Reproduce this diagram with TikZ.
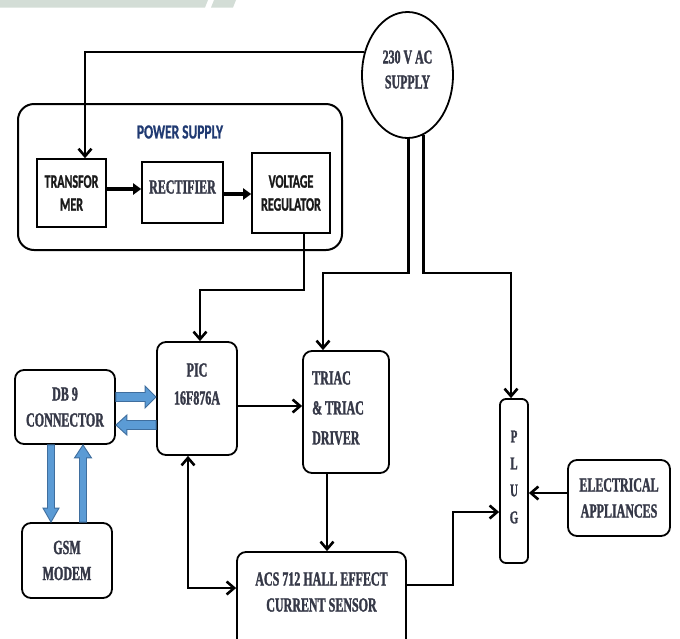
\documentclass[tikz,border=0pt]{standalone}
\usepackage{fontspec}
\usetikzlibrary{arrows.meta,calc,shapes.geometric}
\newfontfamily\srf[FakeStretch=0.6,FakeBold=1.5]{Liberation Serif}
\newfontfamily\srfs[FakeStretch=0.61,FakeBold=1.5]{Liberation Serif}
\newfontfamily\ssf[FakeStretch=0.63,FakeBold=1.2]{Carlito}
\newfontfamily\ssfp[FakeStretch=0.67,FakeBold=0.8]{Carlito}
\definecolor{txt}{HTML}{353847}
\definecolor{navy}{HTML}{203A72}
\definecolor{bfill}{HTML}{5B9BD5}
\definecolor{bline}{HTML}{3F6E9E}
\definecolor{band}{HTML}{D3DDD6}
\newcommand\SerT{\srf\bfseries\fontsize{20}{26}\selectfont}
\newcommand\SerS{\srfs\bfseries\fontsize{19.5}{25}\selectfont}
\newcommand\SanT{\ssf\bfseries\fontsize{19}{23}\selectfont}
\newcommand\BArrow[5]{%
  \filldraw[fill=bfill,draw=bline,line width=0.9pt,line join=miter]
    let \p1=(#1), \p2=(#2), \n1={atan2(\y2-\y1,\x2-\x1)}, \n2={veclen(\x2-\x1,\y2-\y1)} in
    [shift={(\p1)},rotate=\n1]
    (0,-#3) -- (\n2-#5,-#3) -- (\n2-#5,-#4) -- (\n2,0) -- (\n2-#5,#4) -- (\n2-#5,#3) -- (0,#3) -- cycle;}
\tikzset{
  box/.style={draw=black, line width=1.8pt, rounded corners=9pt, inner sep=0pt},
  sqbox/.style={draw=black, line width=1.6pt, inner sep=0pt},
  conn/.style={line width=2.6pt, -{Straight Barb[length=7.5pt,width=13pt]}},
  conn2/.style={line width=2.6pt, {Straight Barb[length=7.5pt,width=13pt]}-{Straight Barb[length=7.5pt,width=13pt]}},
  thick arrow/.style={line width=3.4pt, -{Triangle[length=8pt,width=11pt]}},
  sertext/.style={font=\SerT, text=txt, align=center, inner sep=0pt},
  santext/.style={font=\SanT, text=black!90, align=center, inner sep=0pt}
}
\begin{document}
\begin{tikzpicture}[x=1pt,y=-1pt]
\useasboundingbox (0,0) rectangle (680,638);
\clip (0,0) rectangle (680,638);
% top band
\fill[band] (0,0) -- (208,0) -- (205,7.5) -- (0,7.5) -- cycle;
\fill[band] (214,0) -- (236,0) -- (233,7.5) -- (211,7.5) -- cycle;

% power supply group
\node[draw=black, line width=2pt, rounded corners=16pt, minimum width=324, minimum height=146, inner sep=0] (ps) at (180,177) {};
\node[font={\ssfp\bfseries\fontsize{20}{22}\selectfont}, text=navy, inner sep=0] (pst) at (180,132) {POWER SUPPLY};
\node[sqbox, santext, draw=black, minimum width=69, minimum height=68] (tr) at (71.5,193) {TRANSFOR\\MER};
\node[sqbox, minimum width=81, minimum height=61] (rc) at (182.5,192.5) {};
\node[sertext] (rct) at (182.5,187) {RECTIFIER};
\node[sqbox, santext, draw=black, minimum width=78, minimum height=80] (vr) at (291,193) {VOLTAGE\\REGULATOR};

% supply
\node[ellipse, draw=black, line width=1.8pt, minimum width=91, minimum height=126, inner sep=0] (sup) at (407.5,75) {};
\node[font=\SerS, text=txt, align=center, inner sep=0] (supt) at (407.5,69.5) {230 V AC\\SUPPLY};

% lower boxes
\node[box, minimum width=80, minimum height=113] (pic) at (197,398.5) {};
\node[sertext, font={\srf\bfseries\fontsize{20}{28}\selectfont}] (pict) at (197,384) {PIC\\16F876A};
\node[box, minimum width=86, minimum height=122] (tri) at (346,412) {};
\node[sertext, font={\srf\bfseries\fontsize{20}{30}\selectfont}, align=left, anchor=west] (trit) at (312,408) {TRIAC\\\& TRIAC\\DRIVER};
\node[box, sertext, draw=black, minimum width=100, minimum height=74] (db) at (65,407) {DB 9\\CONNECTOR};
\node[box, sertext, draw=black, minimum width=90, minimum height=75] (gsm) at (67,560.5) {GSM\\MODEM};
\node[box, minimum width=169, minimum height=108] (acs) at (321.5,606) {};
\node[sertext] (acst) at (321.5,592) {ACS 712 HALL EFFECT\\CURRENT SENSOR};
\node[box, rounded corners=6pt, minimum width=28, minimum height=164] (plug) at (514,481) {};
\node[sertext, font={\srf\bfseries\fontsize{18}{27}\selectfont}] (plugt) at (514,477) {P\\L\\U\\G};
\node[box, sertext, draw=black, minimum width=102, minimum height=76] (ea) at (619,498) {ELECTRICAL\\APPLIANCES};

% connectors
\draw[conn] (sup.152) -| ($(tr.north)+(13.5,0)$);
\draw[thick arrow] (tr.east |- 0,189) -- (rc.west |- 0,189);
\draw[thick arrow] (rc.east |- 0,194) -- (vr.west |- 0,194);
\draw[conn] ($(vr.south)+(13,0)$) |- (200,290) -- (200,290 |- pic.north);
\draw[conn] (sup.271) |- (323,273) -- (323,273 |- tri.north);
\draw[conn] (sup.285) |- (511,273) -- (511,273 |- plug.north);
\draw[conn] (pic.east |- 0,406) -- (tri.west |- 0,406);
\draw[conn] (tri.south -| 327,0) -- (acs.north -| 327,0);
\draw[conn2] (pic.south -| 188,0) |- (acs.west |- 0,588);
\draw[conn] (acs.east |- 0,585) -| (453,512) -- (plug.west |- 0,512);
\draw[conn] (ea.west |- 0,493) -- (plug.east |- 0,493);

% blue block arrows
\BArrow{db.east |- 0,397}{pic.west |- 0,397}{4.5}{11}{11}
\BArrow{pic.west |- 0,425}{db.east |- 0,425}{4.5}{10}{11}
\BArrow{db.south -| 51,0}{gsm.north -| 51,0}{3.5}{8}{14}
\BArrow{gsm.north -| 83,0}{db.south -| 83,0}{3.5}{8.5}{13}
\end{tikzpicture}
\end{document}
